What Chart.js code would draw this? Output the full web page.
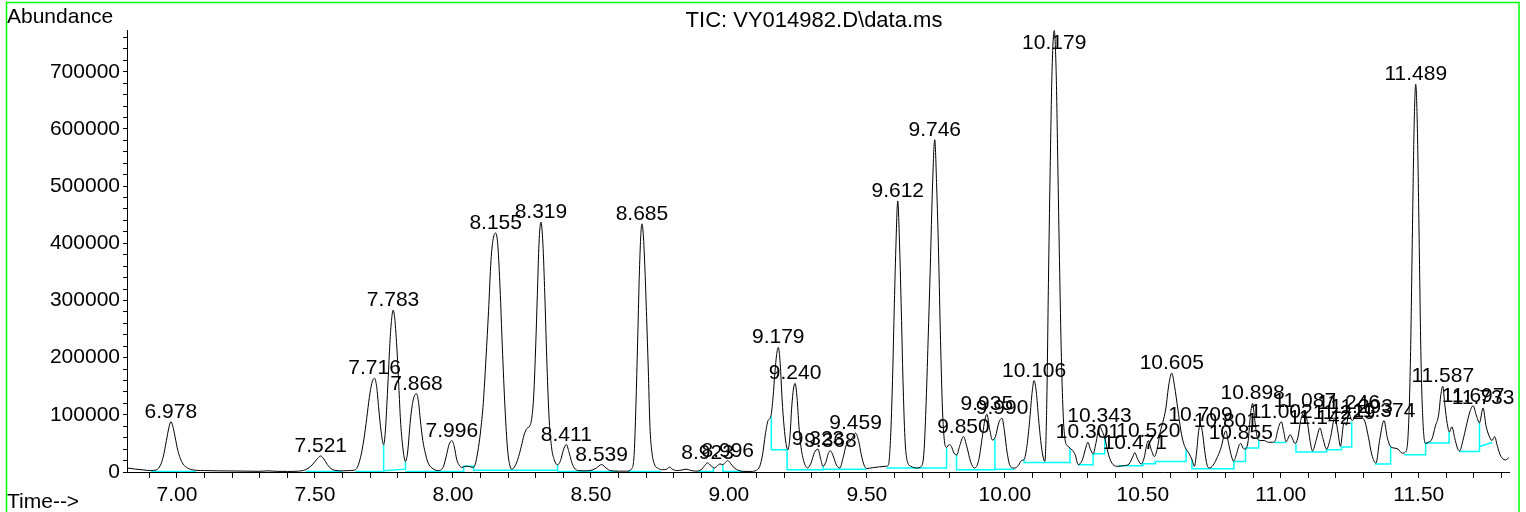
<!DOCTYPE html>
<html><head><meta charset="utf-8">
<script src="https://cdn.jsdelivr.net/npm/chart.js@4.4.1/dist/chart.umd.min.js"></script>
<style>html,body{margin:0;padding:0;background:#fff;overflow:hidden}canvas{display:block}</style>
</head><body>
<canvas id="c" width="1526" height="512"></canvas>
<script>
// ---- data ----
const titleText = 'TIC: VY014982.D\\data.ms';
const yAxisTitle = 'Abundance';
const xAxisTitle = 'Time-->';

// retention time (min)
const ticT = [
6.820,6.850,6.880,6.905,6.925,6.940,6.950,6.958,6.966,6.972,
6.978,6.985,6.993,7.003,7.012,7.022,7.035,7.050,7.070,7.100,
7.150,7.200,7.250,7.300,7.330,7.360,7.400,7.440,7.466,7.485,
7.500,7.510,7.521,7.532,7.545,7.558,7.572,7.600,7.630,7.647,
7.665,7.677,7.688,7.697,7.706,7.716,7.724,7.731,7.740,7.749,
7.755,7.761,7.767,7.773,7.779,7.783,7.789,7.798,7.804,7.810,
7.818,7.828,7.836,7.846,7.856,7.868,7.876,7.882,7.891,7.900,
7.910,7.924,7.948,7.966,7.977,7.986,7.996,8.005,8.014,8.024,
8.033,8.045,8.060,8.072,8.080,8.090,8.100,8.110,8.120,8.129,
8.138,8.146,8.155,8.163,8.171,8.179,8.189,8.198,8.206,8.213,
8.222,8.235,8.248,8.258,8.268,8.278,8.286,8.293,8.300,8.306,
8.312,8.319,8.326,8.333,8.340,8.348,8.357,8.367,8.379,8.390,
8.400,8.411,8.420,8.430,8.440,8.455,8.480,8.505,8.520,8.539,
8.555,8.570,8.600,8.630,8.648,8.657,8.664,8.670,8.676,8.681,
8.685,8.690,8.696,8.702,8.708,8.714,8.721,8.730,8.745,8.760,
8.775,8.785,8.795,8.810,8.830,8.845,8.860,8.880,8.900,8.912,
8.923,8.935,8.948,8.958,8.968,8.978,8.988,8.996,9.006,9.020,
9.035,9.052,9.080,9.100,9.112,9.122,9.132,9.142,9.152,9.160,
9.167,9.173,9.179,9.186,9.193,9.200,9.207,9.214,9.221,9.228,
9.234,9.240,9.247,9.254,9.261,9.272,9.285,9.298,9.310,9.323,
9.333,9.341,9.352,9.360,9.368,9.378,9.390,9.402,9.414,9.426,
9.436,9.447,9.459,9.470,9.480,9.490,9.500,9.520,9.545,9.570,
9.578,9.586,9.593,9.599,9.605,9.612,9.619,9.625,9.631,9.638,
9.646,9.660,9.680,9.698,9.707,9.714,9.722,9.730,9.738,9.746,
9.753,9.760,9.767,9.774,9.781,9.789,9.798,9.806,9.816,9.826,
9.836,9.850,9.862,9.876,9.890,9.905,9.918,9.928,9.935,9.945,
9.955,9.966,9.978,9.990,9.999,10.008,10.020,10.036,10.050,10.060,
10.070,10.080,10.090,10.098,10.106,10.114,10.122,10.130,10.138,10.145,
10.152,10.158,10.164,10.171,10.179,10.186,10.192,10.198,10.205,10.212,
10.220,10.229,10.236,10.245,10.255,10.266,10.280,10.292,10.301,10.310,
10.320,10.330,10.343,10.352,10.362,10.376,10.392,10.410,10.430,10.450,
10.463,10.471,10.480,10.494,10.505,10.513,10.520,10.530,10.542,10.552,
10.563,10.572,10.583,10.595,10.605,10.615,10.627,10.638,10.648,10.657,
10.668,10.678,10.687,10.695,10.702,10.709,10.716,10.724,10.733,10.741,
10.755,10.771,10.785,10.795,10.801,10.810,10.820,10.829,10.840,10.849,
10.855,10.863,10.871,10.882,10.890,10.898,10.906,10.914,10.925,10.940,
10.955,10.970,10.980,10.990,11.002,11.011,11.019,11.034,11.052,11.062,
11.072,11.087,11.097,11.106,11.115,11.128,11.142,11.152,11.166,11.180,
11.196,11.207,11.216,11.229,11.238,11.246,11.258,11.270,11.283,11.293,
11.305,11.318,11.330,11.345,11.358,11.374,11.386,11.397,11.410,11.425,
11.440,11.452,11.462,11.470,11.477,11.483,11.489,11.495,11.501,11.508,
11.515,11.524,11.535,11.548,11.560,11.572,11.580,11.587,11.595,11.603,
11.611,11.620,11.630,11.640,11.648,11.660,11.672,11.685,11.697,11.708,
11.720,11.733,11.744,11.755,11.765,11.775,11.785,11.795,11.805,11.814,11.826
];
// total ion current abundance
const ticV = [
7000,5000,3500,2500,3500,12000,26000,45000,66000,80000,
88000,80000,62000,38000,24000,14000,8000,4500,3000,2500,
2000,1800,1500,1200,2000,1200,1000,1500,4000,10000,
18000,24000,28000,23000,13000,6000,3000,2000,2500,4000,
25000,56000,95000,130000,155000,164000,148000,112000,70000,47700,
70000,121000,180000,237000,272000,283000,270000,208000,150000,91000,
45000,18500,35000,91000,126000,137000,120000,91000,55000,33000,
16000,7000,2500,10000,30000,48000,55000,44000,21500,11000,
8000,10000,9500,8000,12000,35000,70000,120000,200000,280000,
370000,408000,418000,395000,320000,220000,110000,40000,12000,5000,
8000,22000,45000,65000,76000,80000,95000,135000,220000,310000,
400000,437000,400000,310000,200000,100000,45000,21500,12700,20000,
38000,48000,36000,18000,7000,2500,2000,3500,7000,13000,
7000,2500,1500,1500,6000,33000,130000,240000,353000,415000,
434000,415000,353000,270000,180000,80000,35000,14000,6000,4000,
5000,8700,5000,2500,3500,5000,3000,1500,4000,11000,
16000,11000,7000,11000,14000,13000,17000,20000,15000,7000,
3000,1000,1000,3000,10000,30000,65000,90000,97000,130000,
175000,205000,218000,190000,126000,80000,50000,39000,60000,115000,
145000,155000,130000,80000,45000,18000,7000,16000,34000,40000,
22000,10000,18000,32000,37000,28000,12000,7000,25000,48000,
52000,60000,68000,55000,30000,12000,6000,7500,9000,10000,
12000,60000,160000,280000,390000,474000,390000,280000,160000,60000,
20000,10000,7000,10000,35000,110000,230000,360000,500000,581000,
500000,380000,230000,110000,55000,43000,48000,45000,33000,30000,
45000,62000,45000,18000,7000,20000,60000,92000,101000,75000,
56000,62000,86000,94000,70000,35000,10000,7000,12000,20000,
22000,45000,90000,135000,160000,140000,95000,55000,28000,18500,
120000,330000,520000,700000,772000,700000,540000,370000,200000,95000,
52000,45000,42000,38000,30000,13000,20000,40000,52000,40000,
32000,50000,81000,72000,60000,30000,13000,10000,11000,14000,
26000,34000,24000,14000,25000,45000,55000,40000,27000,40000,
70000,86000,110000,155000,173000,150000,110000,72000,50000,40000,
32000,22000,10000,35000,70000,83000,70000,38000,12000,7000,
12000,27000,45000,66000,72000,52000,30000,19000,32000,47000,
50000,42000,40000,55000,100000,120000,90000,62000,55000,55000,
52000,52000,55000,75000,88000,70000,53000,65000,50000,60000,
90000,106000,85000,55000,37000,55000,77000,60000,40000,60000,
95000,70000,45000,86000,82000,104000,90000,95000,98000,96000,
88000,60000,30000,15700,55000,90000,60000,45000,42000,40000,
33000,35000,70000,200000,420000,600000,678000,600000,420000,200000,
90000,50000,52000,58000,80000,100000,135000,150000,115000,85000,
70000,79000,60000,42000,37000,55000,80000,105000,116000,100000,
86000,112000,80000,63000,55000,62000,45000,30000,23000,21000,25000
];

// labelled peaks (retention times printed above the apex)
const peakRT = ['6.978','7.521','7.716','7.783','7.868','7.996','8.155','8.319','8.411','8.539',
'8.685','8.923','8.996','9.179','9.240','9.323','9.368','9.459','9.612','9.746',
'9.850','9.935','9.990','10.106','10.179','10.301','10.343','10.471','10.520','10.605',
'10.709','10.801','10.855','10.898','11.002','11.087','11.142','11.229','11.246','11.293',
'11.374','11.489','11.587','11.697','11.733'];

// integration baselines (null = break between segments)
const baseT = [6.906,7.069,null,
 7.466,7.600,null,
 7.647,7.749,7.749,null,
 7.749,7.828,7.828,null,
 7.828,8.039,8.039,8.075,8.075,8.379,8.379,null,
 8.379,8.597,null,
 8.633,8.754,null,
 8.887,8.944,8.944,null,
 8.978,8.978,9.057,null,
 9.154,9.154,9.211,9.211,9.342,9.342,null,
 9.342,9.499,null,
 9.571,9.789,9.789,null,
 9.825,9.825,9.964,9.964,null,
 9.964,10.036,null,
 10.070,10.070,10.236,10.236,null,
 10.266,10.320,10.320,10.362,10.362,null,
 10.413,10.500,10.500,10.545,10.545,10.657,10.657,null,
 10.678,10.678,10.830,10.830,10.872,10.872,10.920,10.920,null,
 10.975,11.019,null,
 11.055,11.055,11.166,11.166,11.220,11.220,11.257,11.257,null,
 11.341,11.398,11.398,null,
 11.447,11.525,11.525,11.610,11.610,null,
 11.646,11.720,11.720,null,
 11.720,11.766];
const baseV = [1000,1000,null,
 1000,1000,null,
 1000,1000,47700,null,
 2000,5000,18500,null,
 1000,1000,10000,10000,3000,3000,12700,null,
 1000,1000,null,
 1000,1000,null,
 1000,1000,8000,null,
 13000,1000,1000,null,
 97000,39000,39000,4000,4000,10000,null,
 5000,5000,null,
 7000,7000,43000,null,
 30000,4000,4000,58000,null,
 5000,5000,null,
 22000,16800,16800,42000,null,
 12700,12700,32000,32000,60000,null,
 11000,11000,14500,14500,18500,18500,40000,null,
 22000,5800,5800,18500,18500,42000,42000,58000,null,
 51700,51700,null,
 50000,35000,35000,39000,39000,43700,43700,88400,null,
 14000,14000,45000,null,
 30200,30200,50700,50700,70000,null,
 36000,36000,86000,null,
 44700,51700];

const X_MIN = 6.819, X_MAX = 11.827;
const Y_MIN = 0, Y_MAX = 773000;
const xLabelTicks = ['7.00','7.50','8.00','8.50','9.00','9.50','10.00','10.50','11.00','11.50'];
const yLabelTicks = ['0','100000','200000','300000','400000','500000','600000','700000'];
const xMinorStep = 0.1, yMinorStep = 20000;

// ---- chart ----
const FONT = "'Liberation Sans', Arial, Helvetica, sans-serif";
const traceData = ticT.map((t, i) => ({x: t, y: ticV[i]}));
let lastT = baseT[0];
const baseData = baseT.map((t, i) => {
  if (t === null) return {x: lastT, y: null};
  lastT = t; return {x: t, y: baseV[i]};
});
const xTicks = [];
for (let k = Math.ceil(X_MIN / xMinorStep); k * xMinorStep <= X_MAX; k++) xTicks.push(+(k * xMinorStep).toFixed(2));
const yTicks = [];
for (let v = Y_MIN; v <= Y_MAX; v += yMinorStep) yTicks.push(v);

const annot = {
  id: 'annot',
  afterDraw(chart) {
    const {ctx, chartArea, scales: {x, y}} = chart;
    ctx.save();
    ctx.fillStyle = '#000';
    ctx.font = '21px ' + FONT;
    ctx.textBaseline = 'alphabetic';
    ctx.textAlign = 'center';
    peakRT.forEach(rt => {
      const t = parseFloat(rt);
      const i = ticT.findIndex(v => Math.abs(v - t) < 1e-9);
      if (i < 0) return;
      const px = x.getPixelForValue(t);
      const py = Math.max(y.getPixelForValue(ticV[i]) - 4, chartArea.top + 19);
      ctx.fillText(rt, px, py);
    });
    ctx.font = '22px ' + FONT;
    ctx.fillText(titleText, 814, 27);
    ctx.font = '21px ' + FONT;
    ctx.textAlign = 'left';
    ctx.fillText(yAxisTitle, 7, 23);
    ctx.fillText(xAxisTitle, 7, 508);
    ctx.strokeStyle = '#00ff00';
    ctx.lineWidth = 1.5;
    ctx.strokeRect(6.5, 2.5, 1512.5, 530);
    ctx.restore();
  }
};

new Chart(document.getElementById('c'), {
  type: 'line',
  data: {datasets: [
    {data: traceData, borderColor: '#000', borderWidth: 1, pointRadius: 0, cubicInterpolationMode: 'monotone', fill: false},
    {data: baseData, borderColor: '#00ffff', borderWidth: 1.5, pointRadius: 0, tension: 0, spanGaps: false, fill: false}
  ]},
  options: {
    animation: false, responsive: false, events: [],
    layout: {padding: {top: 30, right: 17, left: 0, bottom: 0}},
    plugins: {legend: {display: false}, tooltip: {enabled: false}, title: {display: false}},
    scales: {
      x: {
        type: 'linear', min: X_MIN, max: X_MAX,
        afterBuildTicks: s => { s.ticks = xTicks.map(v => ({value: v})); },
        afterFit: s => { s.height = 40; },
        ticks: {autoSkip: false, maxRotation: 0, minRotation: 0, padding: 5, color: '#000',
          font: {family: FONT, size: 21},
          callback: v => { const s = (+v).toFixed(2); return xLabelTicks.includes(s) ? s : ''; }},
        grid: {display: true, drawOnChartArea: false, drawTicks: true, tickLength: 6, color: '#000', lineWidth: 1},
        border: {display: true, color: '#000', width: 1}
      },
      y: {
        type: 'linear', min: Y_MIN, max: Y_MAX,
        afterBuildTicks: s => { s.ticks = yTicks.map(v => ({value: v})); },
        afterFit: s => { s.width = 127; },
        ticks: {autoSkip: false, padding: 3, color: '#000', font: {family: FONT, size: 21},
          callback: v => { const s = String(v); return yLabelTicks.includes(s) ? s : ''; }},
        grid: {display: true, drawOnChartArea: false, drawTicks: true, tickLength: 4, color: '#000', lineWidth: 1},
        border: {display: true, color: '#000', width: 1}
      }
    }
  },
  plugins: [annot]
});
</script>
</body></html>
